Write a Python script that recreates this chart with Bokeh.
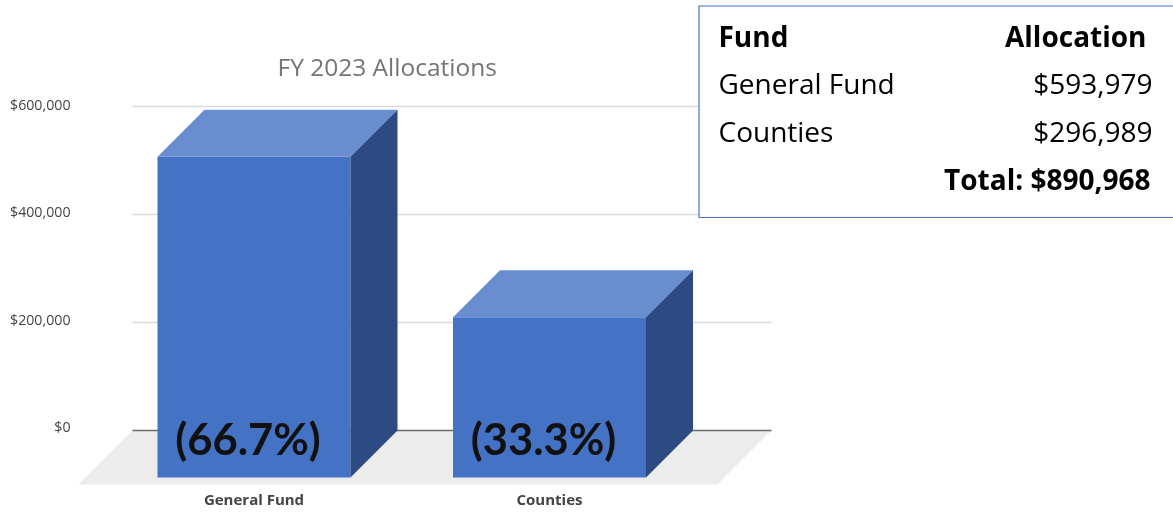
from bokeh.plotting import figure
from bokeh.embed import file_html
from bokeh.resources import INLINE
from bokeh.models import Range1d, FixedTicker, BoxAnnotation, Label, ColumnDataSource, LinearAxis
from bokeh.core.properties import value

# ---- data ----
categories = ["General Fund", "Counties"]
allocations = [593979, 296989]
shares = ["(66.7%)", "(33.3%)"]
y_ticks = [0, 200000, 400000, 600000]
y_tick_labels = ["$0", "$200,000", "$400,000", "$600,000"]
chart_title = "FY 2023 Allocations"
table_header = ["Fund", "Allocation"]
table_funds = ["General Fund", "Counties"]
table_amounts = ["$593,979", "$296,989"]
table_total = "Total: $890,968"

# ---- geometry of the frame (pixels) and the scales ----
W, H = 1173, 513
F_L, F_R, F_T, F_B = 76, 1173, 0, 487
Y0_PX, PX_PER_UNIT = 430, 324 / 600000
X0_PX, PX_PER_CAT = 253.5, 295.5
# the reference's axis labels sit on a slightly tighter scale than its gridlines
LBL0_PX, LBL_PER_UNIT = 426, 322 / 600000

def dx(px):
    return px / PX_PER_CAT

def dy(px):
    return px / PX_PER_UNIT

x_rng = Range1d((F_L - X0_PX) / PX_PER_CAT, (F_R - X0_PX) / PX_PER_CAT)
y_rng = Range1d((Y0_PX - F_B) / PX_PER_UNIT, (Y0_PX - F_T) / PX_PER_UNIT)

p = figure(width=W, height=H, x_range=x_rng, y_range=y_rng, toolbar_location=None,
           output_backend="svg", min_border_left=F_L, min_border_right=W - F_R,
           min_border_top=F_T, min_border_bottom=H - F_B, outline_line_color=None,
           y_axis_location=None)
p.styles = {"position": "fixed", "left": "0px", "top": "0px"}
p.grid.visible = False

# ---- axes ----
p.extra_y_ranges = {"labels": Range1d((LBL0_PX - F_B) / LBL_PER_UNIT, (LBL0_PX - F_T) / LBL_PER_UNIT)}
y_axis = LinearAxis(y_range_name="labels", ticker=FixedTicker(ticks=y_ticks),
                    major_label_overrides=dict(zip(y_ticks, y_tick_labels)),
                    axis_line_color=None, major_tick_line_color=None, major_tick_out=0,
                    minor_tick_line_color=None, minor_tick_out=0,
                    major_label_text_font="Open Sans", major_label_text_font_size="14.2px",
                    major_label_text_color="#444444", major_label_standoff=6)
p.add_layout(y_axis, "left")

p.xaxis.ticker = FixedTicker(ticks=list(range(len(categories))))
p.xaxis.major_label_overrides = dict(enumerate(categories))
p.xaxis.axis_line_color = None
p.xaxis.major_tick_line_color = None
p.xaxis.major_tick_out = 0
p.xaxis.minor_tick_line_color = None
p.xaxis.minor_tick_out = 0
p.xaxis.major_label_text_font = "Open Sans"
p.xaxis.major_label_text_font_style = "bold"
p.xaxis.major_label_text_font_size = "15px"
p.xaxis.major_label_text_color = "#444444"
p.xaxis.major_label_standoff = 1

# ---- floor and gridlines ----
GRID_L, GRID_R = dx(132 - X0_PX), dx(771 - X0_PX)
FLOOR_D = 54
p.patch([GRID_L, GRID_R, GRID_R - dx(FLOOR_D), GRID_L - dx(FLOOR_D)],
        [0, 0, -dy(FLOOR_D), -dy(FLOOR_D)], fill_color="#ececec", line_color=None)
grid_vals = [t for t in y_ticks if t != 0]
p.segment([GRID_L] * len(grid_vals), grid_vals, [GRID_R] * len(grid_vals), grid_vals,
          line_color="#d9d9d9", line_width=1.5)
p.segment([GRID_L], [0], [GRID_R], [0], line_color="#6a6a6a", line_width=1.5)

# ---- 3-D bars ----
HALF = dx(96.5)
DX, DY = dx(47), dy(47)
for i, v in enumerate(allocations):
    l, r = i - HALF, i + HALF
    top_y, bot_y = v - DY, -DY
    p.patch([l, r, r, l], [bot_y, bot_y, top_y, top_y], fill_color="#4472c4", line_color=None)
    p.patch([l, r, r + DX, l + DX], [top_y, top_y, v, v], fill_color="#698ed0", line_color=None)
    p.patch([r, r + DX, r + DX, r], [bot_y, 0, v, top_y], fill_color="#2d4b82", line_color=None)

# ---- percentage labels ----
src = ColumnDataSource(dict(x=list(range(len(shares))), y=[-dy(7)] * len(shares), t=shares))
p.text(x="x", y="y", text="t", source=src, x_offset=-6, text_align="center",
       text_baseline="middle", text_font=value("Lato"), text_font_style="bold",
       text_font_size="43.5px", text_color="#111111")

# ---- title and table (screen units count from the frame's lower left corner) ----
p.add_layout(BoxAnnotation(left=698.5 - F_L, right=W + 5 - F_L, top=F_B - 5.5, bottom=F_B - 217,
                           left_units="screen", right_units="screen",
                           top_units="screen", bottom_units="screen",
                           fill_color="#ffffff", fill_alpha=1,
                           line_color="#4472c4", line_alpha=1, line_width=1.2))

def cell(text, x, y, align="left", bold=False, size="28px", color="#000000"):
    p.add_layout(Label(x=x - F_L, y=F_B - y, x_units="screen", y_units="screen", text=text,
                       text_align=align, text_baseline="middle",
                       text_font="Open Sans", text_font_size=size,
                       text_font_style="bold" if bold else "normal",
                       text_color=color))

cell(chart_title, 277, 66, size="24.5px", color="#757575")
cell(table_header[0], 718, 35, bold=True)
cell(table_header[1], 1146, 35, "right", True)
for name, amount, yy in zip(table_funds, table_amounts, [82, 130]):
    cell(name, 718, yy)
    cell(amount, 1152, yy, "right")
cell(table_total, 1150, 178, "right", True)

open("out.html", "w").write(file_html(p, INLINE))
